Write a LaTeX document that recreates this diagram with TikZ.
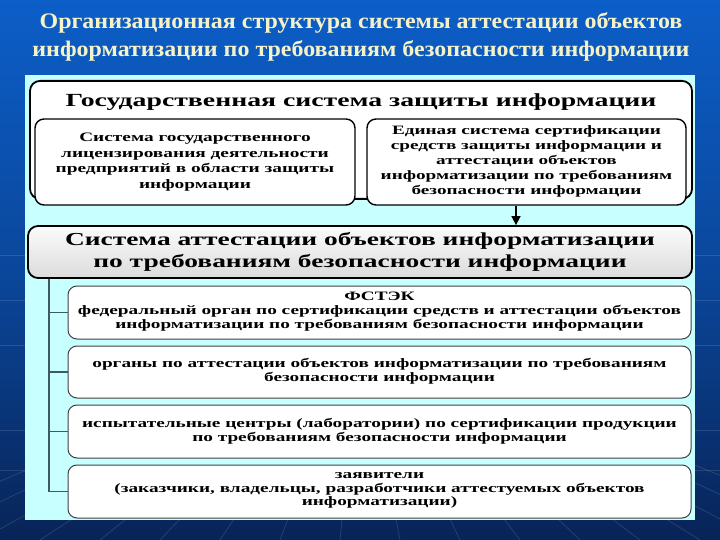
\documentclass[tikz,border=0pt]{standalone}
\usepackage{fontspec}
\setmainfont{Liberation Serif}
\newfontfamily\boxfont[FakeStretch=1.5]{Liberation Serif}
\newfontfamily\ttlfont[FakeStretch=1.08]{Liberation Serif}
\usetikzlibrary{arrows.meta}
\definecolor{bgtop}{RGB}{12,94,200}
\definecolor{bgbot}{RGB}{8,36,88}
\definecolor{panel}{RGB}{200,255,255}
\definecolor{ttl}{RGB}{246,242,200}
\definecolor{conn}{RGB}{60,90,95}
\tikzset{
  bigbox/.style={draw=black, line width=1.8pt, rounded corners=10pt, fill=white},
  subbox/.style={draw=black, line width=1.4pt, rounded corners=9pt, fill=white},
  grbox/.style={draw=black, line width=1.8pt, rounded corners=10pt, top color=white!97!gray, bottom color=gray!28},
  itembox/.style={draw=black!75, line width=1pt, rounded corners=9pt, fill=white},
  bigtxt/.style={font=\boxfont\bfseries\fontsize{18.5}{22}\selectfont, align=center, inner sep=0pt},
  midtxt/.style={font=\boxfont\bfseries\fontsize{12.9}{15.5}\selectfont, align=center, inner sep=0pt},
  smalltxt/.style={font=\boxfont\bfseries\fontsize{12.85}{13.8}\selectfont, align=center, inner sep=0pt},
  connline/.style={draw=conn, line width=1.2pt},
  bgline/.style={draw=white, opacity=0.12, line width=0.8pt}
}
\begin{document}
\begin{tikzpicture}[x=1pt, y=-1pt]
\useasboundingbox (0,0) rectangle (720,540);
% background
\shade[top color=bgtop, bottom color=bgbot, middle color=bgtop!60!bgbot] (0,0) rectangle (720,540);
\foreach \bx in {-140,-80,-20,40,100,160,220,280,340,400,460,520,580,640,700,760,820,880}
  \draw[bgline] (360,330) -- (\bx,540);
\foreach \hy in {255,300,345,430,470}
  {\draw[bgline] (0,\hy) -- (25,\hy); \draw[bgline] (695,\hy) -- (720,\hy);}
% title
\node[font=\ttlfont\bfseries\fontsize{22.2}{28}\selectfont, text=ttl, align=center, inner sep=0pt] (title) at (361,37)
  {Организационная структура системы аттестации объектов\\информатизации по требованиям безопасности информации};
% panel
\fill[panel] (25,75) rectangle (695,520);
% top group
\node[bigbox, minimum width=662pt, minimum height=118pt, anchor=north] (gs) at (361,80) {};
\node[bigtxt] (gst) at (361,102) {Государственная система защиты информации};
\node[subbox, minimum width=320pt, minimum height=86pt] (lic) at (195,162) {};
\node[midtxt] (lict) at (195,162) {Система государственного\\лицензирования деятельности\\предприятий в области защиты\\информации};
\node[subbox, minimum width=319pt, minimum height=86pt] (esc) at (526.5,162) {};
\node[smalltxt, font=\boxfont\bfseries\fontsize{12.8}{15}\selectfont] (esct) at (526.5,161) {Единая система сертификации\\средств защиты информации и\\аттестации объектов\\информатизации по требованиям\\безопасности информации};
% second main box
\node[grbox, minimum width=664pt, minimum height=52pt] (sa) at (360,252) {};
\node[bigtxt, font=\boxfont\bfseries\fontsize{18.3}{22}\selectfont] (sat) at (360,252) {Система аттестации объектов информатизации\\по требованиям безопасности информации};
\coordinate (ar) at (516,0);
\draw[line width=1.6pt, -{Triangle[length=9pt, width=9pt]}] (esc.south -| ar) -- (sa.north -| ar);
% items
\node[itembox, minimum width=623pt, minimum height=53pt] (b1) at (379.5,312.5) {};
\node[smalltxt] (b1t) at (379.5,311.5) {ФСТЭК\\федеральный орган по сертификации средств и аттестации объектов\\информатизации по требованиям безопасности информации};
\node[itembox, minimum width=623pt, minimum height=52pt] (b2) at (379.5,372) {};
\node[smalltxt] (b2t) at (379.5,371.5) {органы по аттестации объектов информатизации по требованиям\\безопасности информации};
\node[itembox, minimum width=623pt, minimum height=53pt] (b3) at (379.5,431.5) {};
\node[smalltxt] (b3t) at (379.5,431) {испытательные центры (лаборатории) по сертификации продукции\\по требованиям безопасности информации};
\node[itembox, minimum width=623pt, minimum height=53pt] (b4) at (379.5,491.5) {};
\node[smalltxt] (b4t) at (379.5,490.5) {заявители\\(заказчики, владельцы, разработчики аттестуемых объектов\\информатизации)};
% connectors
\coordinate (v) at (49,0);
\draw[connline] (sa.south -| v) |- (b4.west);
\draw[connline] (b1.west -| v) -- (b1.west);
\draw[connline] (b2.west -| v) -- (b2.west);
\draw[connline] (b3.west -| v) -- (b3.west);
\end{tikzpicture}
\end{document}
